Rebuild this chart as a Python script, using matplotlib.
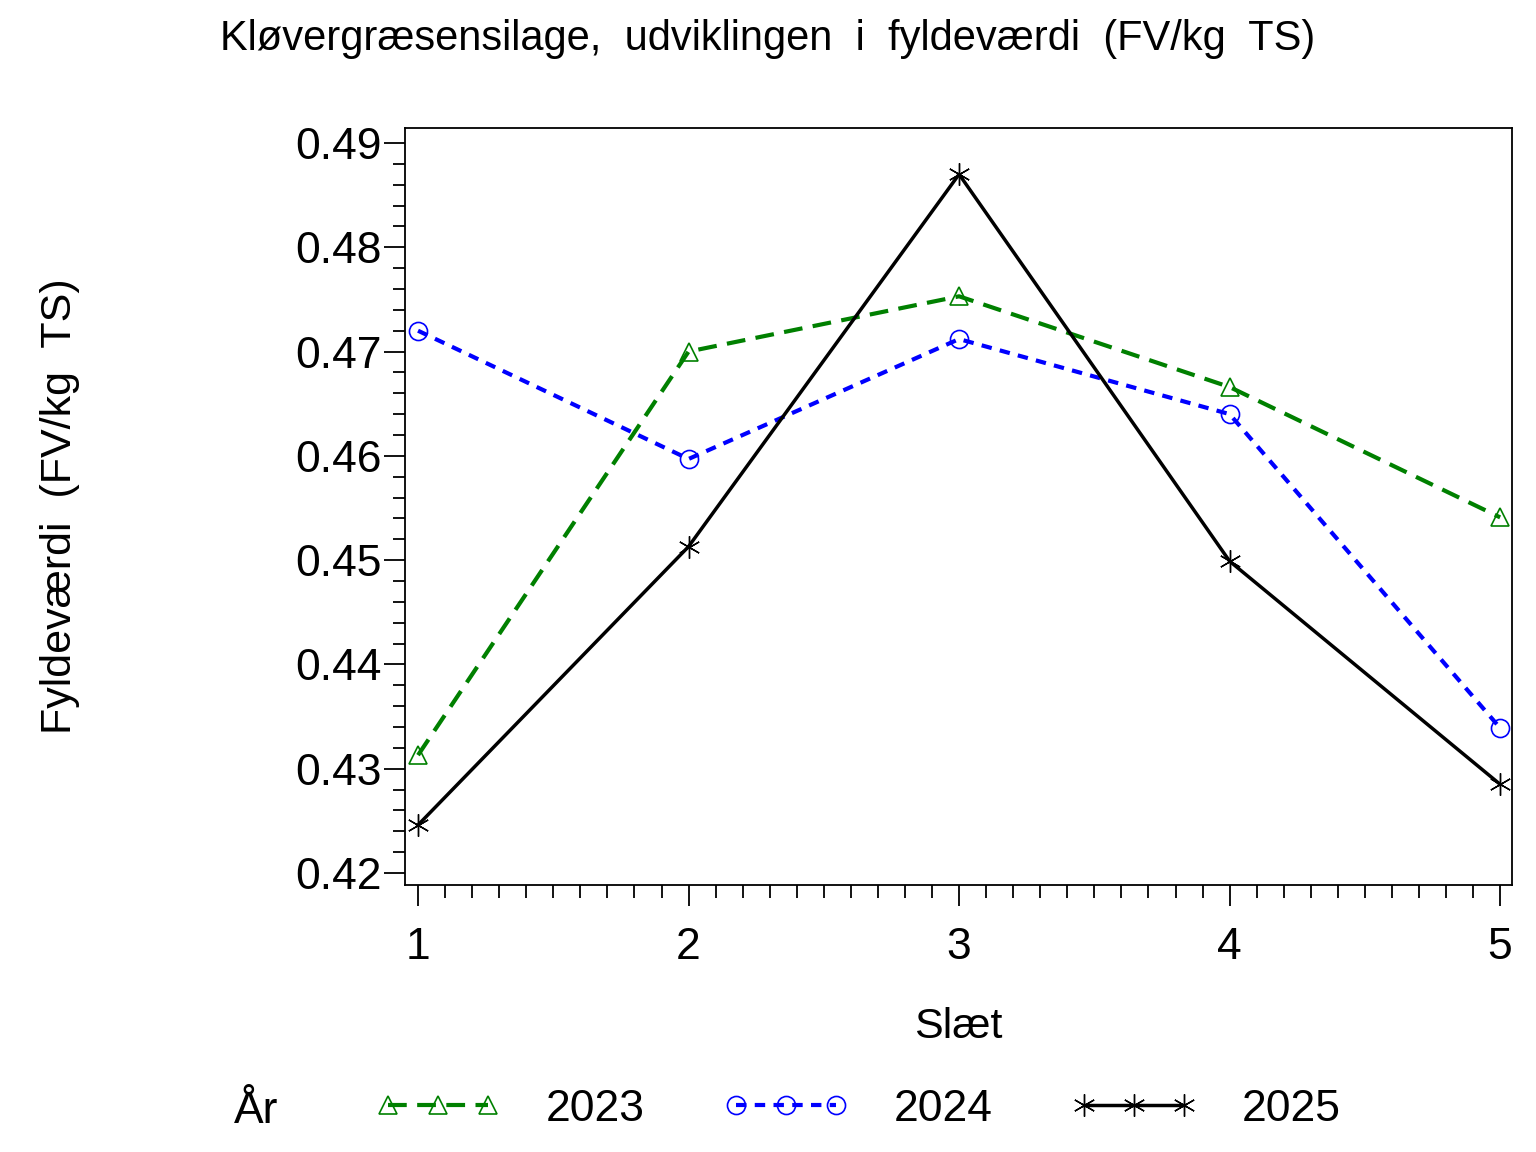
"""Kløvergræsensilage: fyldeværdi per slæt."""
import matplotlib.pyplot as plt
from matplotlib.ticker import MultipleLocator

plt.rcParams["font.family"] = ["Liberation Sans", "DejaVu Sans"]

# Data.
slaet = [1, 2, 3, 4, 5]
fv_2023 = [0.4313, 0.4700, 0.4753, 0.4666, 0.4541]
fv_2024 = [0.4720, 0.4597, 0.4712, 0.4640, 0.4339]
fv_2025 = [0.4246, 0.4513, 0.4870, 0.4499, 0.4285]
years = ["2023", "2024", "2025"]

fig = plt.figure(figsize=(15.36, 11.52), dpi=100)
ax = fig.add_axes([0.2637, 0.2318, 0.7207, 0.6571])

l1, = ax.plot(slaet, fv_2023, color="green", lw=3, ls=(0, (4.5, 2.5)),
              marker="^", ms=13, mfc="none", mec="green", mew=1.2)
l2, = ax.plot(slaet, fv_2024, color="blue", lw=3, ls=(0, (2.5, 2)),
              marker="o", ms=13, mfc="none", mec="blue", mew=1.2)
l3, = ax.plot(slaet, fv_2025, color="black", lw=2.5, ls="-",
              marker=(6, 2, 0), ms=16, mec="black", mew=1.0)

ax.set_xlim(0.952, 5.044)
ax.set_ylim(0.41885, 0.49144)
ax.xaxis.set_major_locator(MultipleLocator(1))
ax.xaxis.set_minor_locator(MultipleLocator(0.1))
ax.yaxis.set_major_locator(MultipleLocator(0.01))
ax.yaxis.set_minor_locator(MultipleLocator(0.002))
ax.yaxis.set_major_formatter(lambda v, p: f"{v:.2f}")

ax.tick_params(which="major", direction="out", length=15, width=1.3,
               labelsize=32, pad=2)
ax.tick_params(axis="x", which="major", pad=15)
ax.tick_params(which="minor", direction="out", length=9, width=1.3)
for s in ax.spines.values():
    s.set_linewidth(1.3)

ax.set_xlabel("Slæt", fontsize=31, labelpad=28)
ax.set_ylabel("Fyldeværdi  (FV/kg  TS)", fontsize=31, labelpad=155)

fig.text(0.5, 0.966, "Kløvergræsensilage,  udviklingen  i  fyldeværdi  (FV/kg  TS)",
         ha="center", va="center", fontsize=30)

# Legend at bottom.
fig.text(0.167, 0.035, "År", ha="center", va="center", fontsize=32)
fig.legend([l1, l2, l3], years, ncol=3, numpoints=3, loc="center left",
           bbox_to_anchor=(0.218, 0.037), frameon=False, fontsize=32,
           handlelength=2.85, handletextpad=1.0, columnspacing=1.75)

fig.savefig("out.png", dpi=100)
